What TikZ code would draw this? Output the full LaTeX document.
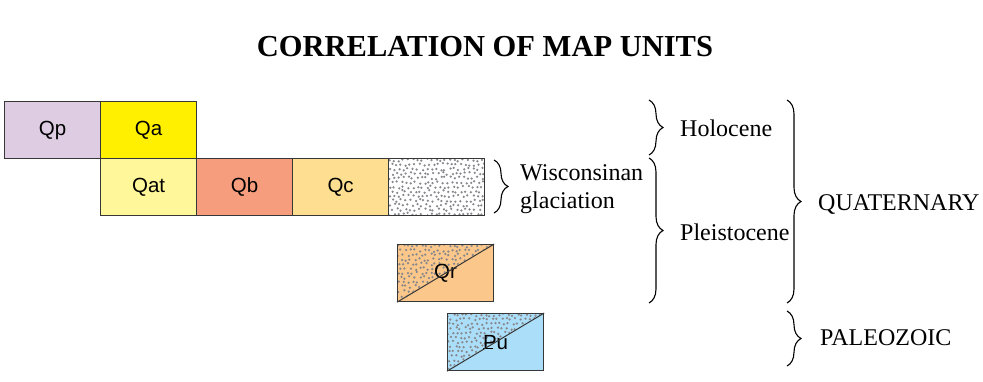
\documentclass[tikz,border=0pt]{standalone}
\usepackage{fontspec}
\setmainfont{Liberation Serif}
\setsansfont{Liberation Sans}
\usetikzlibrary{decorations.pathreplacing}
\definecolor{cQp}{RGB}{221,204,226}
\definecolor{cQa}{RGB}{255,240,0}
\definecolor{cQat}{RGB}{255,247,153}
\definecolor{cQb}{RGB}{245,157,125}
\definecolor{cQc}{RGB}{254,222,144}
\definecolor{cQr}{RGB}{251,199,138}
\definecolor{cPu}{RGB}{171,222,248}
\definecolor{bordergray}{RGB}{55,55,55}
\definecolor{dotgray}{RGB}{135,135,140}
\newcommand\mystipple[2]{%
  \foreach \i in {0,...,20}{
    \foreach \j in {0,...,12}{
      \pgfmathsetmacro\px{#1+1.8+\i*4.6+mod(\j,2)*2.3+1.4*rand}
      \pgfmathsetmacro\py{#2+2.0+\j*4.5+1.4*rand}
      \fill[dotgray] (\px,\py) circle (1.25);
    }
  }%
}
\tikzset{
  unit/.style={draw=bordergray,line width=1.2pt,minimum width=96pt,minimum height=57pt,
    inner sep=0pt,anchor=north west,font=\sffamily\fontsize{20.5}{20.5}\selectfont},
  lbl/.style={anchor=base west,inner sep=0pt,font=\fontsize{24}{24}\selectfont},
  bracestyle/.style={decorate,decoration={brace,amplitude=14pt},line width=1.1pt},
}
\begin{document}
\begin{tikzpicture}[x=1pt,y=-1pt]
\useasboundingbox (0,0) rectangle (983,381);
\pgfmathsetseed{7}
\node[font=\bfseries\fontsize{30.5}{30.5}\selectfont,inner sep=0pt] (title) at (485,47) {CORRELATION OF MAP UNITS};
% first row
\node[unit,fill=cQp] (Qp) at (4,101) {Qp};
\node[unit,fill=cQa] (Qa) at (100,101) {Qa};
% second row
\node[unit,fill=cQat] (Qat) at (100,158) {Qat};
\node[unit,fill=cQb] (Qb) at (196,158) {Qb};
\node[unit,fill=cQc] (Qc) at (292,158) {Qc};
\begin{scope}
  \clip (388,158) rectangle (484,215);
  \mystipple{388}{158}
\end{scope}
\node[unit] (Qw) at (388,158) {};
% Qr
\fill[cQr] (397,244) rectangle (493,301);
\begin{scope}
  \clip (397,301) -- (397,244) -- (493,244) -- cycle;
  \mystipple{397}{244}
\end{scope}
\node[unit] (Qr) at (397,244) {Qr};
\draw[bordergray,line width=1pt] (Qr.south west) -- (Qr.north east);
% Pu
\fill[cPu] (447,313) rectangle (543,370);
\begin{scope}
  \clip (447,370) -- (447,313) -- (543,313) -- cycle;
  \mystipple{447}{313}
\end{scope}
\node[unit] (Pu) at (447,313) {\makebox[0pt][l]{\rule{0.5em}{0.07em}}Pu};
\draw[bordergray,line width=1pt] (Pu.south west) -- (Pu.north east);
% braces
\coordinate (w1) at (494,160); \coordinate (w2) at (494,213);
\coordinate (h1) at (649,100); \coordinate (h2) at (649,155);
\coordinate (p1) at (649,158); \coordinate (p2) at (649,303);
\coordinate (q1) at (787,100); \coordinate (q2) at (787,303);
\coordinate (z1) at (787,311); \coordinate (z2) at (787,366);
\draw[bracestyle] (w1) -- (w2);
\draw[bracestyle] (h1) -- (h2);
\draw[bracestyle] (p1) -- (p2);
\draw[bracestyle] (q1) -- (q2);
\draw[bracestyle] (z1) -- (z2);
% labels
\node[lbl] (wis) at (520,180) {Wisconsinan};
\node[lbl] (gla) at (520,208) {glaciation};
\node[lbl] (hol) at (680,136) {Holocene};
\node[lbl] (ple) at (680,240) {Pleistocene};
\node[lbl] (qua) at (818,210) {QUATERNARY};
\node[lbl] (pal) at (820,345) {PALEOZOIC};
\end{tikzpicture}
\end{document}
